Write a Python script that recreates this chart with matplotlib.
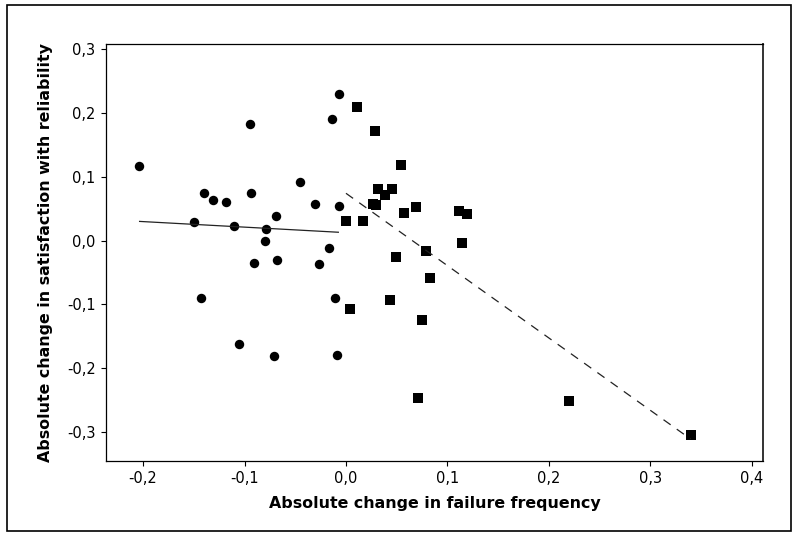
import matplotlib
matplotlib.use("Agg")
import matplotlib.pyplot as plt
from matplotlib.patches import Rectangle
from matplotlib.ticker import FuncFormatter, FixedLocator

# Group A (circles): failure frequency decreased
fail_a = [-0.204, -0.150, -0.140, -0.131, -0.118, -0.110, -0.0936, -0.095,
          -0.079, -0.080, -0.069, -0.045, -0.031, -0.007, -0.0069, -0.0135,
          -0.0164, -0.091, -0.0677, -0.027, -0.1426, -0.0105, -0.1057,
          -0.0706, -0.0092]
sat_a = [0.117, 0.029, 0.0745, 0.063, 0.061, 0.0235, 0.0747, 0.182,
         0.018, 0.000, 0.039, 0.0915, 0.057, 0.054, 0.230, 0.190,
         -0.0125, -0.0345, -0.030, -0.0365, -0.090, -0.090, -0.162,
         -0.181, -0.179]

# Group B (squares): failure frequency increased
fail_b = [0.0108, 0.0289, 0.0545, 0.0318, 0.045, 0.0384, 0.0263, 0.0296,
          0.000, 0.0164, 0.0571, 0.0693, 0.1117, 0.1195, 0.1143, 0.0791,
          0.0493, 0.083, 0.0042, 0.0436, 0.0749, 0.0709, 0.220, 0.3396]
sat_b = [0.210, 0.1715, 0.119, 0.081, 0.081, 0.0716, 0.0575, 0.0549,
         0.030, 0.030, 0.0434, 0.052, 0.0455, 0.041, -0.004, -0.017,
         -0.026, -0.0585, -0.1075, -0.0925, -0.125, -0.2466, -0.2508,
         -0.3045]

# Fitted regression lines (intercept, slope) for each group
fit_a = (0.0123, -0.0867)
fit_b = (0.074, -1.134)

x_ticks = [-0.2, -0.1, 0.0, 0.1, 0.2, 0.3, 0.4]
y_ticks = [-0.3, -0.2, -0.1, 0.0, 0.1, 0.2, 0.3]

x_label = "Absolute change in failure frequency"
y_label = "Absolute change in satisfaction with reliability"

W, H = 794, 534
fig = plt.figure(figsize=(W / 100, H / 100), dpi=100)
fig.patch.set_facecolor("white")

ax = fig.add_axes([106 / W, 1 - 461 / H, (763 - 106) / W, (461 - 44) / H])
ax.set_xlim(-0.2365, 0.411)
ax.set_ylim(-0.3456, 0.308)

ax.plot(fail_a, sat_a, linestyle="none", marker="o", markersize=6.8,
        color="black", markeredgewidth=0)
ax.plot(fail_b, sat_b, linestyle="none", marker="s", markersize=6.9,
        color="black", markeredgewidth=0)

xa = [min(fail_a), max(fail_a)]
ax.plot(xa, [fit_a[0] + fit_a[1] * v for v in xa], color="#222222",
        linewidth=0.9, solid_capstyle="butt")
xb = [min(fail_b), max(fail_b)]
ax.plot(xb, [fit_b[0] + fit_b[1] * v for v in xb], color="#222222",
        linewidth=0.9, linestyle=(0, (7, 6)))

comma = FuncFormatter(lambda v, p: f"{v:.1f}".replace(".", ",").replace("-0,0", "0,0"))
ax.xaxis.set_major_locator(FixedLocator(x_ticks))
ax.yaxis.set_major_locator(FixedLocator(y_ticks))
ax.xaxis.set_major_formatter(comma)
ax.yaxis.set_major_formatter(comma)
ax.tick_params(direction="out", length=3.5, width=0.8, pad=4,
               labelsize=10.5, colors="black")

for s in ax.spines.values():
    s.set_linewidth(0.9)
    s.set_color("black")
ax.spines["right"].set_linewidth(1.4)
ax.spines["right"].set_color("#333333")

ax.set_xlabel(x_label, fontsize=11.4, fontweight="bold", labelpad=7)
ax.set_ylabel(y_label, fontsize=11.4, fontweight="bold", labelpad=10)

# Outer frame around the whole graph
fig.patches.append(Rectangle((7 / W, 1 - 531 / H), (791 - 7) / W, (531 - 5) / H,
                             transform=fig.transFigure, fill=False,
                             edgecolor="black", linewidth=1.2))

fig.savefig("out.png", dpi=100)
